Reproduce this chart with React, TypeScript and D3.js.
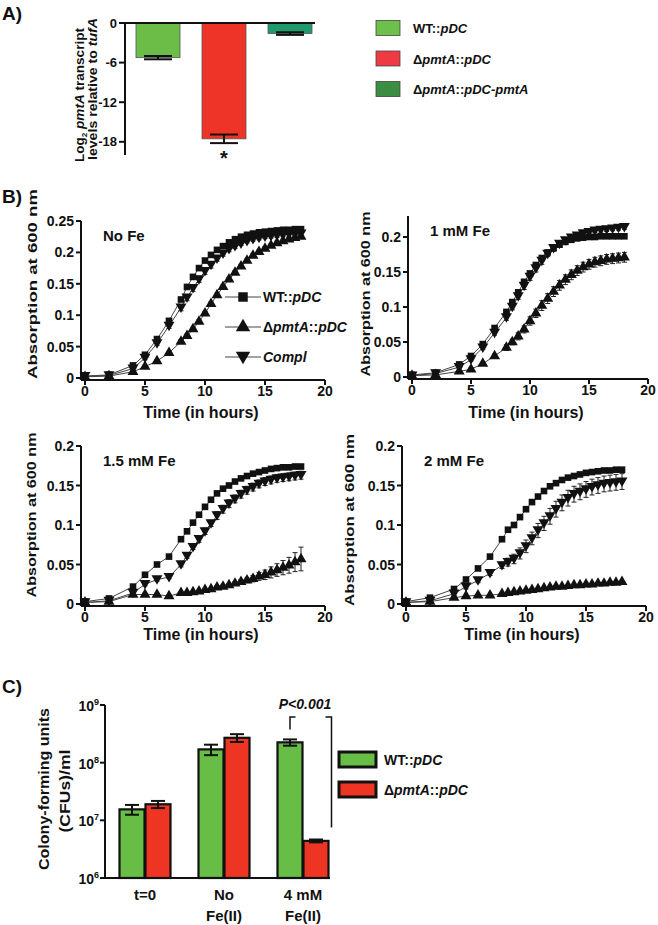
import React from 'react';
import * as d3 from 'd3';

const FONT = "'Liberation Sans', Arial, Helvetica, sans-serif";

// ---------- Panel A ----------
const aStrains = ['WT', 'dMut', 'dCompl'];
const aValues = [-5.25, -17.55, -1.6];
const aErrors = [0.25, 0.65, 0.2];
const aTicks = [0, -6, -12, -18];

// ---------- Panel B ----------
const hours = [0, 2, 4, 5, 6, 7, 8, 8.5, 9, 9.5, 10, 10.5, 11, 11.5, 12, 12.5, 13, 13.5, 14, 14.5, 15, 15.5, 16, 16.5, 17, 17.5, 18];
const xTicksB = [0, 5, 10, 15, 20];

const noFeWT = [0.003, 0.005, 0.02, 0.037, 0.062, 0.091, 0.125, 0.145, 0.161, 0.175, 0.187, 0.196, 0.204, 0.21, 0.216, 0.221, 0.225, 0.228, 0.23, 0.232, 0.233, 0.234, 0.235, 0.236, 0.236, 0.237, 0.237];
const noFeCompl = [0.003, 0.004, 0.015, 0.032, 0.055, 0.083, 0.112, 0.128, 0.143, 0.157, 0.17, 0.18, 0.19, 0.198, 0.205, 0.21, 0.214, 0.218, 0.221, 0.223, 0.225, 0.226, 0.227, 0.228, 0.229, 0.229, 0.23];
const noFeComplErr = [0, 0, 0.002, 0.003, 0.003, 0.004, 0.005, 0.005, 0.005, 0.005, 0.005, 0.005, 0.004, 0.004, 0.004, 0.004, 0.003, 0.003, 0.003, 0.003, 0.003, 0.003, 0.003, 0.003, 0.003, 0.003, 0.003];
const noFeMut = [0.002, 0.003, 0.01, 0.018, 0.027, 0.04, 0.058, 0.067, 0.078, 0.09, 0.103, 0.118, 0.132, 0.145, 0.157, 0.168, 0.178, 0.187, 0.195, 0.201, 0.206, 0.211, 0.215, 0.218, 0.221, 0.223, 0.225];
const noFeMutErr = [0, 0, 0.001, 0.002, 0.002, 0.002, 0.003, 0.003, 0.003, 0.003, 0.003, 0.003, 0.003, 0.003, 0.003, 0.003, 0.003, 0.003, 0.003, 0.003, 0.003, 0.003, 0.003, 0.003, 0.003, 0.003, 0.003];
const yTicksNoFe = [0, 0.05, 0.1, 0.15, 0.2, 0.25];

const oneWT = [0.003, 0.006, 0.018, 0.03, 0.047, 0.07, 0.093, 0.107, 0.121, 0.136, 0.148, 0.16, 0.17, 0.178, 0.184, 0.189, 0.193, 0.196, 0.198, 0.199, 0.2, 0.2, 0.201, 0.201, 0.201, 0.201, 0.201];
const oneCompl = [0.002, 0.005, 0.014, 0.025, 0.042, 0.063, 0.085, 0.1, 0.115, 0.13, 0.143, 0.155, 0.166, 0.176, 0.184, 0.19, 0.195, 0.199, 0.202, 0.205, 0.207, 0.209, 0.21, 0.211, 0.212, 0.213, 0.214];
const oneComplErr = [0, 0, 0.002, 0.002, 0.003, 0.003, 0.004, 0.004, 0.004, 0.005, 0.005, 0.005, 0.005, 0.004, 0.004, 0.004, 0.003, 0.003, 0.003, 0.003, 0.003, 0.003, 0.003, 0.003, 0.003, 0.003, 0.003];
const oneMut = [0.002, 0.003, 0.008, 0.011, 0.019, 0.03, 0.042, 0.05, 0.058, 0.068, 0.08, 0.091, 0.102, 0.112, 0.122, 0.131, 0.139, 0.146, 0.152, 0.157, 0.161, 0.164, 0.166, 0.168, 0.169, 0.17, 0.171];
const oneMutErr = [0, 0, 0.001, 0.002, 0.002, 0.003, 0.004, 0.004, 0.005, 0.005, 0.006, 0.006, 0.007, 0.007, 0.007, 0.007, 0.007, 0.007, 0.007, 0.007, 0.007, 0.007, 0.007, 0.007, 0.007, 0.007, 0.007];
const yTicksOne = [0, 0.05, 0.1, 0.15, 0.2];

const fifteenWT = [0.003, 0.007, 0.022, 0.037, 0.05, 0.06, 0.082, 0.092, 0.103, 0.113, 0.123, 0.132, 0.14, 0.146, 0.15, 0.155, 0.159, 0.162, 0.165, 0.167, 0.169, 0.171, 0.172, 0.173, 0.173, 0.174, 0.174];
const fifteenCompl = [0.002, 0.004, 0.014, 0.025, 0.031, 0.034, 0.05, 0.061, 0.072, 0.082, 0.092, 0.102, 0.112, 0.12, 0.127, 0.133, 0.139, 0.144, 0.148, 0.152, 0.155, 0.157, 0.159, 0.16, 0.161, 0.162, 0.163];
const fifteenComplErr = [0, 0, 0.002, 0.002, 0.002, 0.002, 0.003, 0.003, 0.003, 0.004, 0.004, 0.004, 0.005, 0.005, 0.005, 0.005, 0.005, 0.005, 0.005, 0.005, 0.005, 0.005, 0.005, 0.005, 0.005, 0.005, 0.005];
const fifteenMut = [0.002, 0.003, 0.012, 0.012, 0.012, 0.01, 0.014, 0.014, 0.015, 0.016, 0.018, 0.019, 0.021, 0.022, 0.024, 0.026, 0.028, 0.03, 0.032, 0.035, 0.037, 0.04, 0.043, 0.046, 0.049, 0.053, 0.057];
const fifteenMutErr = [0, 0, 0.001, 0.001, 0.001, 0.001, 0.001, 0.001, 0.001, 0.001, 0.001, 0.001, 0.002, 0.002, 0.002, 0.002, 0.003, 0.003, 0.004, 0.005, 0.006, 0.007, 0.008, 0.009, 0.01, 0.012, 0.015];
const yTicksFifteen = [0, 0.05, 0.1, 0.15, 0.2];

const twoWT = [0.003, 0.008, 0.019, 0.031, 0.045, 0.06, 0.082, 0.094, 0.1, 0.11, 0.12, 0.129, 0.136, 0.143, 0.149, 0.153, 0.157, 0.16, 0.162, 0.164, 0.166, 0.167, 0.168, 0.169, 0.169, 0.17, 0.17];
const twoCompl = [0.002, 0.004, 0.013, 0.022, 0.03, 0.039, 0.049, 0.053, 0.057, 0.064, 0.073, 0.083, 0.093, 0.102, 0.111, 0.12, 0.128, 0.134, 0.139, 0.142, 0.145, 0.148, 0.15, 0.152, 0.153, 0.154, 0.155];
const twoComplErr = [0, 0, 0.002, 0.003, 0.003, 0.003, 0.004, 0.005, 0.006, 0.007, 0.008, 0.008, 0.009, 0.009, 0.01, 0.01, 0.01, 0.01, 0.01, 0.01, 0.01, 0.01, 0.01, 0.01, 0.01, 0.01, 0.01];
const twoMut = [0.002, 0.003, 0.008, 0.01, 0.011, 0.011, 0.013, 0.014, 0.015, 0.016, 0.017, 0.018, 0.019, 0.02, 0.021, 0.022, 0.022, 0.023, 0.024, 0.024, 0.025, 0.025, 0.026, 0.026, 0.027, 0.027, 0.028];
const yTicksTwo = [0, 0.05, 0.1, 0.15, 0.2];

// ---------- Panel C ----------
const cGroups = ['t=0', 'No Fe(II)', '4 mM Fe(II)'];
const cWT = [1.55e7, 1.7e8, 2.25e8];
const cWTErr = [0.3e7, 0.35e8, 0.28e8];
const cMut = [1.9e7, 2.7e8, 4.4e6];
const cMutErr = [0.27e7, 0.42e8, 0.25e6];
const cTicks = [1e6, 1e7, 1e8, 1e9];
const cTickExp = ['6', '7', '8', '9'];

const COLORS = {
  aGreen: '#6cbd48', aRed: '#ee3428', aTeal: '#1e9a6c',
  lgGreen: '#6dc04b', lgRed: '#ee3b43', lgDark: '#3b8e41',
  cGreen: '#67bd46', cRed: '#ee3523',
};

const bold = { fontFamily: FONT, fontWeight: 700 } as const;

function MutLabel({ suffix }: { suffix?: string }) {
  return (
    <>
      <tspan>Δ</tspan>
      <tspan fontStyle="italic">pmtA</tspan>
      <tspan>::</tspan>
      <tspan fontStyle="italic">{suffix ?? 'pDC'}</tspan>
    </>
  );
}

function WTLabel() {
  return (
    <>
      <tspan>WT::</tspan>
      <tspan fontStyle="italic">pDC</tspan>
    </>
  );
}

const triUp = d3.symbol().type(d3.symbolTriangle).size(52)();
const square = d3.symbol().type(d3.symbolSquare).size(44)();
const triUpBig = d3.symbol().type(d3.symbolTriangle).size(90)();
const squareBig = d3.symbol().type(d3.symbolSquare).size(90)();

type PanelCfg = {
  label: string; wt: number[]; mut: number[]; compl: number[];
  mutErr?: number[]; complErr?: number[];
  yMax: number; yTicks: number[];
  x0: number; x1: number; y0: number; y1: number;
  titleX: number; titleY: number; titleLen: number;
  timeY: number; legend?: boolean;
};

function GrowthPanel({ c }: { c: PanelCfg }) {
  const x = d3.scaleLinear().domain([0, 20]).range([c.x0, c.x1]);
  const y = d3.scaleLinear().domain([0, c.yMax]).range([c.y0, c.y1]);
  const axX = c.x0 - 4;
  const axY = c.y0 + 2;
  const line = d3.line<number>().x((_, i) => x(hours[i])).y((d) => y(d));
  const errBars = (vals: number[], errs: number[] | undefined, key: string) =>
    errs ? vals.map((v, i) => {
      const e = errs[i];
      if (!e) return null;
      const cx = x(hours[i]);
      return (
        <g key={key + i} stroke="#222" strokeWidth={1}>
          <line x1={cx} x2={cx} y1={y(v - e)} y2={y(v + e)} />
          <line x1={cx - 2.5} x2={cx + 2.5} y1={y(v + e)} y2={y(v + e)} />
          <line x1={cx - 2.5} x2={cx + 2.5} y1={y(v - e)} y2={y(v - e)} />
        </g>
      );
    }) : null;
  const series = [
    { vals: c.mut, path: triUp, rot: 0, key: 'm' },
    { vals: c.compl, path: triUp, rot: 180, key: 'c' },
    { vals: c.wt, path: square, rot: 0, key: 'w' },
  ];
  return (
    <g>
      {series.map((s) => (
        <path key={'l' + s.key} d={line(s.vals) ?? ''} fill="none" stroke="#444" strokeWidth={1} />
      ))}
      {errBars(c.mut, c.mutErr, 'em')}
      {errBars(c.compl, c.complErr, 'ec')}
      {series.map((s) =>
        s.vals.map((v, i) => (
          <path key={s.key + i} d={s.path} fill="#111"
            transform={`translate(${x(hours[i])},${y(v) + (s.rot ? -1 : 0)}) rotate(${s.rot})`} />
        ))
      )}
      {/* axes */}
      <line x1={axX} x2={axX} y1={y(c.yMax)} y2={axY} stroke="#111" strokeWidth={2} />
      <line x1={axX} x2={x(20)} y1={axY} y2={axY} stroke="#111" strokeWidth={2} />
      {c.yTicks.map((t) => (
        <g key={'yt' + t}>
          <line x1={axX - 5} x2={axX} y1={y(t)} y2={y(t)} stroke="#111" strokeWidth={2} />
          <text x={axX - 7} y={y(t)} dy="0.36em" textAnchor="end" fontSize={14} {...bold} fill="#111">
            {d3.format('~g')(t)}
          </text>
        </g>
      ))}
      {xTicksB.map((t) => (
        <g key={'xt' + t}>
          <line x1={x(t)} x2={x(t)} y1={axY} y2={axY + 5} stroke="#111" strokeWidth={2} />
          <text x={x(t)} y={axY + 16} textAnchor="middle" fontSize={14} {...bold} fill="#111">{t}</text>
        </g>
      ))}
      <text x={(c.x0 + c.x1) / 2 - 4} y={c.timeY} textAnchor="middle" fontSize={16} {...bold} fill="#111">
        Time (in hours)
      </text>
      <text transform={`translate(${c.titleX},${c.titleY}) rotate(-90)`} textAnchor="middle" fontSize={13}
        {...bold} fill="#111" textLength={c.titleLen} lengthAdjust="spacingAndGlyphs">
        Absorption at 600 nm
      </text>
      <text x={axX + 22} y={c.y0 - 0.9 * (c.y0 - c.y1) + 4} fontSize={15} {...bold} fill="#111">{c.label}</text>
      {c.legend && (
        <g>
          {[0, 1, 2].map((r) => {
            const ly = 297 + r * 30;
            const p = r === 0 ? squareBig : triUpBig;
            return (
              <g key={'lg' + r}>
                <line x1={225} x2={261} y1={ly} y2={ly} stroke="#444" strokeWidth={1} />
                <path d={p} fill="#111" transform={`translate(243,${ly + (r === 2 ? -1 : 0)}) rotate(${r === 2 ? 180 : 0})`} />
              </g>
            );
          })}
          <text x={263} y={302} fontSize={14} {...bold} fill="#111"><WTLabel /></text>
          <text x={263} y={332} fontSize={14} {...bold} fill="#111"><MutLabel /></text>
          <text x={263} y={362} fontSize={14} {...bold} fontStyle="italic" fill="#111">Compl</text>
        </g>
      )}
    </g>
  );
}

function PanelA() {
  const x = d3.scalePoint<string>().domain(aStrains).range([158, 290]);
  const y = d3.scaleLinear().domain([0, -20]).range([23, 155]);
  const fills = [COLORS.aGreen, COLORS.aRed, COLORS.aTeal];
  const bw = 44;
  return (
    <g>
      <text x={2} y={20} fontSize={19} {...bold} fill="#111">A)</text>
      {aStrains.map((s, i) => {
        const cx = x(s)!;
        const v = aValues[i];
        const e = aErrors[i];
        return (
          <g key={s}>
            <rect x={cx - bw / 2} y={y(0)} width={bw} height={y(v) - y(0)} fill={fills[i]} stroke="#555" strokeWidth={0.8} />
            <g stroke="#111" strokeWidth={2}>
              <line x1={cx} x2={cx} y1={y(v + e)} y2={y(v - e)} />
              <line x1={cx - 14} x2={cx + 14} y1={y(v + e)} y2={y(v + e)} />
              <line x1={cx - 14} x2={cx + 14} y1={y(v - e)} y2={y(v - e)} />
            </g>
          </g>
        );
      })}
      <line x1={125} x2={315} y1={y(0)} y2={y(0)} stroke="#111" strokeWidth={2} />
      <line x1={125} x2={125} y1={y(0) - 1} y2={y(-20)} stroke="#111" strokeWidth={2} />
      {aTicks.map((t) => (
        <g key={t}>
          <line x1={119} x2={125} y1={y(t)} y2={y(t)} stroke="#111" strokeWidth={2} />
          <text x={117} y={y(t)} dy="0.36em" textAnchor="end" fontSize={13} {...bold} fill="#111">{t}</text>
        </g>
      ))}
      <text x={x('dMut')} y={y(aValues[1] - aErrors[1]) + 22} textAnchor="middle" fontSize={20} {...bold} fill="#111">*</text>
      <text transform="translate(84,95) rotate(-90)" textAnchor="middle" fontSize={13.5} {...bold} fill="#111"
        textLength={134} lengthAdjust="spacingAndGlyphs">
        Log<tspan fontSize={8} dy={3}>2</tspan><tspan dy={-3}> </tspan><tspan fontStyle="italic">pmtA</tspan> transcript
      </text>
      <text transform="translate(97,89) rotate(-90)" textAnchor="middle" fontSize={13.5} {...bold} fill="#111"
        textLength={142} lengthAdjust="spacingAndGlyphs">
        levels relative to <tspan fontStyle="italic">tufA</tspan>
      </text>
      {/* legend */}
      {[COLORS.lgGreen, COLORS.lgRed, COLORS.lgDark].map((c, i) => {
        const cy = 28 + i * 30.5;
        return (
          <g key={'la' + i}>
            <rect x={376} y={cy - 7.5} width={24} height={15} fill={c} stroke="#444" strokeWidth={0.8} />
            <text x={413} y={cy + 5} fontSize={13} {...bold} fill="#111">
              {i === 0 ? <WTLabel /> : i === 1 ? <MutLabel /> : <MutLabel suffix="pDC-pmtA" />}
            </text>
          </g>
        );
      })}
    </g>
  );
}

function PanelC() {
  const x = d3.scalePoint<string>().domain(cGroups).range([145, 303]);
  const y = d3.scaleLog().domain([1e6, 1e9]).range([878, 705]);
  const bw = 25;
  const lines2 = [['t=0'], ['No', 'Fe(II)'], ['4 mM', 'Fe(II)']];
  const bar = (cx: number, v: number, e: number, fill: string, key: string) => (
    <g key={key}>
      <rect x={cx} y={y(v)} width={bw} height={878 - y(v)} fill={fill} stroke="#111" strokeWidth={2.2} />
      <g stroke="#111" strokeWidth={2}>
        <line x1={cx + bw / 2} x2={cx + bw / 2} y1={y(v + e)} y2={y(v - e)} />
        <line x1={cx + bw / 2 - 7} x2={cx + bw / 2 + 7} y1={y(v + e)} y2={y(v + e)} />
        <line x1={cx + bw / 2 - 7} x2={cx + bw / 2 + 7} y1={y(v - e)} y2={y(v - e)} />
      </g>
    </g>
  );
  const gx = x(cGroups[2])!;
  const topL = y(cWT[2] + cWTErr[2]) - 10;
  const bTop = 717;
  return (
    <g>
      <text x={2} y={693} fontSize={19} {...bold} fill="#111">C)</text>
      {cGroups.map((g, i) => {
        const cx = x(g)!;
        return (
          <g key={g}>
            {bar(cx - bw - 0.5, cWT[i], cWTErr[i], COLORS.cGreen, 'w' + i)}
            {bar(cx + 0.5, cMut[i], cMutErr[i], COLORS.cRed, 'm' + i)}
            {lines2[i].map((t, j) => (
              <text key={t} x={cx} y={900 + j * 21} textAnchor="middle" fontSize={15} {...bold} fill="#111">{t}</text>
            ))}
          </g>
        );
      })}
      <line x1={105} x2={330} y1={878} y2={878} stroke="#111" strokeWidth={2} />
      <line x1={105} x2={105} y1={705} y2={879} stroke="#111" strokeWidth={2} />
      {cTicks.map((t, i) => (
        <g key={t}>
          <line x1={100} x2={105} y1={y(t)} y2={y(t)} stroke="#111" strokeWidth={2} />
          <text x={99} y={y(t) + 6} textAnchor="end" fontSize={14} {...bold} fill="#111">
            10<tspan fontSize={9} dy={-6}>{cTickExp[i]}</tspan>
          </text>
        </g>
      ))}
      {/* significance bracket */}
      <path d={`M${gx - bw / 2 - 0.5},${topL} V${bTop} H${gx - bw / 2 + 5}`} fill="none" stroke="#111" strokeWidth={1.5} />
      <path d={`M${gx + bw / 2 + 10},${bTop} H${gx + bw / 2 + 16} V${y(cMut[2] + cMutErr[2]) - 12}`} fill="none" stroke="#111" strokeWidth={1.5} />
      <text x={gx + 2} y={709} textAnchor="middle" fontSize={14} {...bold} fontStyle="italic" fill="#111">P&lt;0.001</text>
      <text transform="translate(49,789) rotate(-90)" textAnchor="middle" fontSize={14} {...bold} fill="#111"
        textLength={162} lengthAdjust="spacingAndGlyphs">Colony-forming units</text>
      <text transform="translate(70,791) rotate(-90)" textAnchor="middle" fontSize={14} {...bold} fill="#111"
        textLength={83} lengthAdjust="spacingAndGlyphs">(CFUs)/ml</text>
      {/* legend */}
      {[COLORS.cGreen, COLORS.cRed].map((c, i) => {
        const cy = 759.5 + i * 30;
        return (
          <g key={'lc' + i}>
            <rect x={339} y={cy - 7.5} width={37} height={15} fill={c} stroke="#111" strokeWidth={3} />
            <text x={384} y={cy + 5.5} fontSize={14} {...bold} fill="#111">
              {i === 0 ? <WTLabel /> : <MutLabel />}
            </text>
          </g>
        );
      })}
    </g>
  );
}

const panelsB: PanelCfg[] = [
  { label: 'No Fe', wt: noFeWT, mut: noFeMut, compl: noFeCompl, mutErr: noFeMutErr, complErr: noFeComplErr,
    yMax: 0.25, yTicks: yTicksNoFe, x0: 85, x1: 325, y0: 378, y1: 221, titleX: 37, titleY: 284, titleLen: 190, timeY: 418, legend: true },
  { label: '1 mM Fe', wt: oneWT, mut: oneMut, compl: oneCompl, mutErr: oneMutErr, complErr: oneComplErr,
    yMax: 0.23, yTicks: yTicksOne, x0: 412, x1: 648, y0: 377, y1: 216, titleX: 370, titleY: 294, titleLen: 165, timeY: 418 },
  { label: '1.5 mM Fe', wt: fifteenWT, mut: fifteenMut, compl: fifteenCompl, mutErr: fifteenMutErr, complErr: fifteenComplErr,
    yMax: 0.2, yTicks: yTicksFifteen, x0: 85, x1: 325, y0: 604, y1: 446, titleX: 36, titleY: 515, titleLen: 165, timeY: 640 },
  { label: '2 mM Fe', wt: twoWT, mut: twoMut, compl: twoCompl, complErr: twoComplErr,
    yMax: 0.2, yTicks: yTicksTwo, x0: 406, x1: 646, y0: 604, y1: 446, titleX: 354, titleY: 520, titleLen: 172, timeY: 640 },
];

export default function App() {
  return (
    <svg width={658} height={925} viewBox="0 0 658 925"
      style={{ position: 'absolute', left: 0, top: 0, background: '#fff' }}>
      <rect width={658} height={925} fill="#fff" />
      <PanelA />
      <text x={2} y={203} fontSize={19} {...bold} fill="#111">B)</text>
      {panelsB.map((p) => <GrowthPanel key={p.label} c={p} />)}
      <PanelC />
    </svg>
  );
}
